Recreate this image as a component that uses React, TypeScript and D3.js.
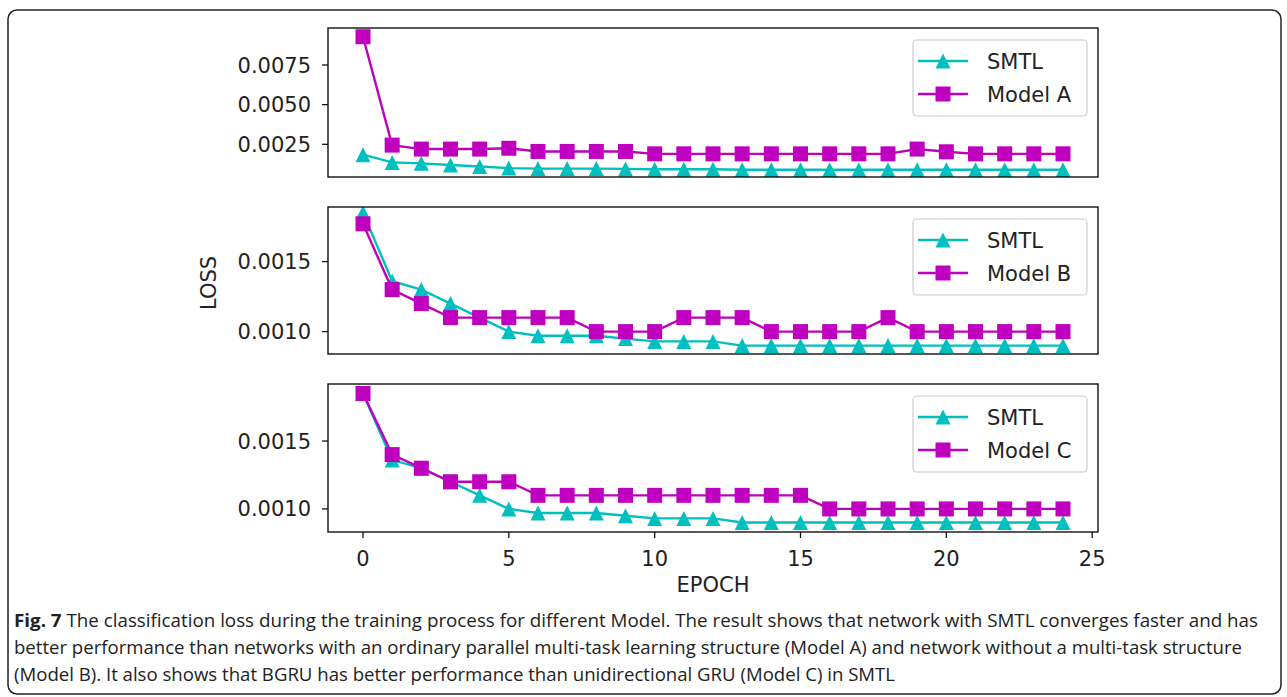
import React from "react";
import * as d3 from "d3";

const epochs = [0, 1, 2, 3, 4, 5, 6, 7, 8, 9, 10, 11, 12, 13, 14, 15, 16, 17, 18, 19, 20, 21, 22, 23, 24];
const smtl = [0.00185, 0.00136, 0.0013, 0.0012, 0.0011, 0.001, 0.00097, 0.00097, 0.00097, 0.00095, 0.00093, 0.00093, 0.00093, 0.0009, 0.0009, 0.0009, 0.0009, 0.0009, 0.0009, 0.0009, 0.0009, 0.0009, 0.0009, 0.0009, 0.0009];
const modelA = [0.00928, 0.00245, 0.0022, 0.0022, 0.0022, 0.00225, 0.00205, 0.00205, 0.00205, 0.00205, 0.0019, 0.0019, 0.0019, 0.0019, 0.0019, 0.0019, 0.0019, 0.0019, 0.0019, 0.0022, 0.00203, 0.0019, 0.0019, 0.0019, 0.0019];
const modelB = [0.00177, 0.0013, 0.0012, 0.0011, 0.0011, 0.0011, 0.0011, 0.0011, 0.001, 0.001, 0.001, 0.0011, 0.0011, 0.0011, 0.001, 0.001, 0.001, 0.001, 0.0011, 0.001, 0.001, 0.001, 0.001, 0.001, 0.001];
const modelC = [0.00185, 0.0014, 0.0013, 0.0012, 0.0012, 0.0012, 0.0011, 0.0011, 0.0011, 0.0011, 0.0011, 0.0011, 0.0011, 0.0011, 0.0011, 0.0011, 0.001, 0.001, 0.001, 0.001, 0.001, 0.001, 0.001, 0.001, 0.001];

const panelNames = ["Model A", "Model B", "Model C"];
const panelSeries = [modelA, modelB, modelC];
const panelTicks = [[0.0025, 0.005, 0.0075], [0.001, 0.0015], [0.001, 0.0015]];
const panelDomains: [number, number][] = [[0.00044, 0.00983], [0.00084, 0.00189], [0.00083, 0.00192]];
const xTicks = [0, 5, 10, 15, 20, 25];

const captionLines = [
  "The classification loss during the training process for different Model. The result shows that network with SMTL converges faster and has",
  "better performance than networks with an ordinary parallel multi-task learning structure (Model A) and network without a multi-task structure",
  "(Model B). It also shows that BGRU has better performance than unidirectional GRU (Model C) in SMTL",
];

const CYAN = "#00BFBF";
const MAG = "#BF00BF";
const FONT = "DejaVu Sans, sans-serif";

const X0 = 328, X1 = 1098;
const panelTops = [28, 207, 384];
const panelBottoms = [177, 354, 532];

const MS = 15;

function tri(x: number, y: number, s: number) {
  const h = s / 2;
  return `M${x},${y - h}L${x - h},${y + h}L${x + h},${y + h}Z`;
}

export default function App() {
  const x = d3.scaleLinear().domain([-1.2, 25.2]).range([X0, X1]);

  return (
    <svg width={1287} height={697} style={{ position: "absolute", left: 0, top: 0, background: "#fff" }}>
      <rect x={8} y={10} width={1273} height={684} rx={9} ry={9} fill="none" stroke="#222" strokeWidth={1.5} />
      <defs>
        {panelTops.map((t, i) => (
          <clipPath id={`clip${i}`} key={i}>
            <rect x={X0} y={t} width={X1 - X0} height={panelBottoms[i] - t} />
          </clipPath>
        ))}
      </defs>
      {panelTops.map((top, i) => {
        const bottom = panelBottoms[i];
        const y = d3.scaleLinear().domain(panelDomains[i]).range([bottom, top]);
        const line = d3.line<number>().x((_, j) => x(epochs[j])).y((d) => y(d));
        const model = panelSeries[i];
        const lx = X1 - 185, ly = top + 12;
        return (
          <g key={i}>
            <g clipPath={`url(#clip${i})`}>
              <path d={line(smtl) || ""} fill="none" stroke={CYAN} strokeWidth={2.4} />
              {smtl.map((v, j) => (
                <path key={j} d={tri(x(epochs[j]), y(v), MS)} fill={CYAN} />
              ))}
              <path d={line(model) || ""} fill="none" stroke={MAG} strokeWidth={2.4} />
              {model.map((v, j) => (
                <rect key={j} x={x(epochs[j]) - MS / 2} y={y(v) - MS / 2} width={MS} height={MS} fill={MAG} />
              ))}
            </g>
            <rect x={X0} y={top} width={X1 - X0} height={bottom - top} fill="none" stroke="#111" strokeWidth={1.4} />
            {panelTicks[i].map((t) => (
              <g key={t}>
                <line x1={X0 - 6} x2={X0} y1={y(t)} y2={y(t)} stroke="#111" strokeWidth={1.3} />
                <text x={X0 - 17} y={y(t)} dy="0.36em" textAnchor="end" fontFamily={FONT} fontSize={21} fill="#222">
                  {t.toFixed(4)}
                </text>
              </g>
            ))}
            <g>
              <rect x={lx} y={ly} width={174} height={76} rx={4} fill="#fff" fillOpacity={0.8} stroke="#ccc" strokeWidth={1.2} />
              <line x1={lx + 5} x2={lx + 55} y1={ly + 21} y2={ly + 21} stroke={CYAN} strokeWidth={2.4} />
              <path d={tri(lx + 30, ly + 21, MS)} fill={CYAN} />
              <text x={lx + 74} y={ly + 21} dy="0.36em" fontFamily={FONT} fontSize={21} fill="#222">SMTL</text>
              <line x1={lx + 5} x2={lx + 55} y1={ly + 54} y2={ly + 54} stroke={MAG} strokeWidth={2.4} />
              <rect x={lx + 30 - MS / 2} y={ly + 54 - MS / 2} width={MS} height={MS} fill={MAG} />
              <text x={lx + 74} y={ly + 54} dy="0.36em" fontFamily={FONT} fontSize={21} fill="#222">{panelNames[i]}</text>
            </g>
            {i === 2 &&
              xTicks.map((t) => (
                <g key={t}>
                  <line x1={x(t)} x2={x(t)} y1={bottom} y2={bottom + 6} stroke="#111" strokeWidth={1.3} />
                  <text x={x(t)} y={bottom + 26} dy="0.36em" textAnchor="middle" fontFamily={FONT} fontSize={21} fill="#222">
                    {t}
                  </text>
                </g>
              ))}
          </g>
        );
      })}
      <text x={(X0 + X1) / 2} y={584} dy="0.36em" textAnchor="middle" fontFamily={FONT} fontSize={21} fill="#222">EPOCH</text>
      <text transform={`translate(208,283) rotate(-90)`} dy="0.36em" textAnchor="middle" fontFamily={FONT} fontSize={21} fill="#222">LOSS</text>
      <g fontFamily="Open Sans, sans-serif" fontSize={18.6} fill="#222">
        <text x={14} y={627} textLength={1244} lengthAdjust="spacingAndGlyphs">
          <tspan fontWeight="bold">Fig. 7</tspan> {captionLines[0]}
        </text>
        <text x={14} y={654} textLength={1228} lengthAdjust="spacingAndGlyphs">{captionLines[1]}</text>
        <text x={14} y={681}>{captionLines[2]}</text>
      </g>
    </svg>
  );
}
